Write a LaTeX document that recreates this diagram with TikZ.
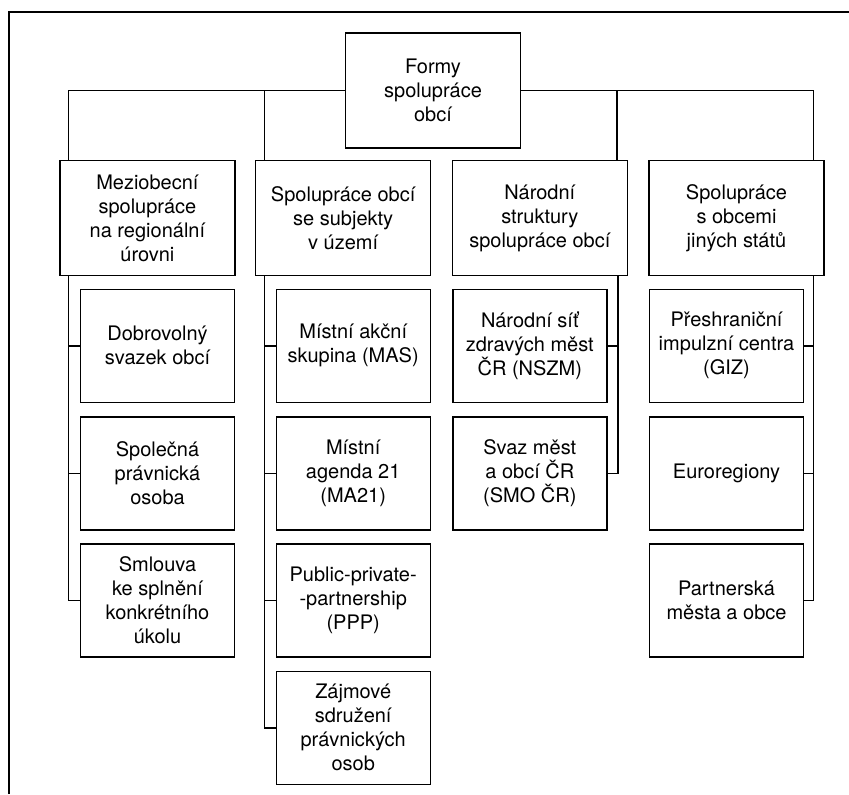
\documentclass[tikz,border=0pt]{standalone}
\usepackage{fontspec}
\setmainfont{TeX Gyre Heros}

\begin{document}
\begin{tikzpicture}[x=0.5pt, y=-0.5pt, line width=0.7pt,
  every node/.style={font=\fontsize{10}{12}\selectfont, align=center},
  lvl/.style={draw, inner sep=0pt, minimum width=87.5pt, minimum height=57.5pt},
  sub/.style={lvl, minimum width=77pt, minimum height=56.5pt}]
  \useasboundingbox (0,0) rectangle (849,794);
  % frame of the page
  \draw[line width=1.2pt] (9,794) -- (9,12) -- (849,12);

  \node[lvl] (formy) at (433,90.5) {Formy\\spolupráce\\obcí};

  \node[lvl] (mezi) at (147.4,218) {Meziobecní\\spolupráce\\na regionální\\úrovni};
  \node[lvl] (subj) at (343.2,218) {Spolupráce obcí\\se subjekty\\v území};
  \node[lvl] (narod) at (539.8,218) {Národní\\struktury\\spolupráce obcí};
  \node[lvl] (stat) at (736.5,218) {Spolupráce\\s obcemi\\jiných států};

  \node[sub] (m1) at (157.5,345.8) {Dobrovolný\\svazek obcí};
  \node[sub] (m2) at (157.5,473.3) {Společná\\právnická\\osoba};
  \node[sub] (m3) at (157.5,600.5) {Smlouva\\ke splnění\\konkrétního\\úkolu};

  \node[sub] (s1) at (353.2,345.8) {Místní akční\\skupina (MAS)};
  \node[sub] (s2) at (353.2,473.3) {Místní\\agenda 21\\(MA21)};
  \node[sub] (s3) at (353.2,600.5) {Public-private-\\-partnership\\(PPP)};
  \node[sub] (s4) at (353.2,727.8) {Zájmové\\sdružení\\právnických\\osob};

  \node[sub] (n1) at (529.8,345.8) {Národní síť\\zdravých měst\\ČR (NSZM)};
  \node[sub] (n2) at (529.8,473.3) {Svaz měst\\a obcí ČR\\(SMO ČR)};

  \node[sub] (z1) at (726.5,345.8) {Přeshraniční\\impulzní centra\\(GIZ)};
  \node[sub] (z2) at (726.5,473.3) {Euroregiony};
  \node[sub] (z3) at (726.5,600.5) {Partnerská\\města a obce};

  % top level
  \draw (formy.west) -| ([xshift=4.5pt]mezi.north west);
  \draw (formy.west -| subj.north west) ++(9.3,0) -- ([xshift=4.65pt]subj.north west);
  \draw (formy.east) -| ([xshift=-5.5pt]stat.north east);
  \draw (formy.east -| narod.north east) ++(-11,0) -- ([xshift=-5.5pt]narod.north east);

  % trunks
  \coordinate (mt) at ([xshift=4.5pt]mezi.south west);
  \coordinate (st) at ([xshift=4.65pt]subj.south west);
  \coordinate (nt) at ([xshift=-5pt]narod.south east);
  \coordinate (zt) at ([xshift=-5.5pt]stat.south east);

  \draw (mt) |- (m3.west);
  \draw (mt |- m1.west) -- (m1.west);
  \draw (mt |- m2.west) -- (m2.west);

  \draw (st) |- (s4.west);
  \draw (st |- s1.west) -- (s1.west);
  \draw (st |- s2.west) -- (s2.west);
  \draw (st |- s3.west) -- (s3.west);

  \draw (nt) |- (n2.east);
  \draw (nt |- n1.east) -- (n1.east);

  \draw (zt) |- (z3.east);
  \draw (zt |- z1.east) -- (z1.east);
  \draw (zt |- z2.east) -- (z2.east);
\end{tikzpicture}
\end{document}
